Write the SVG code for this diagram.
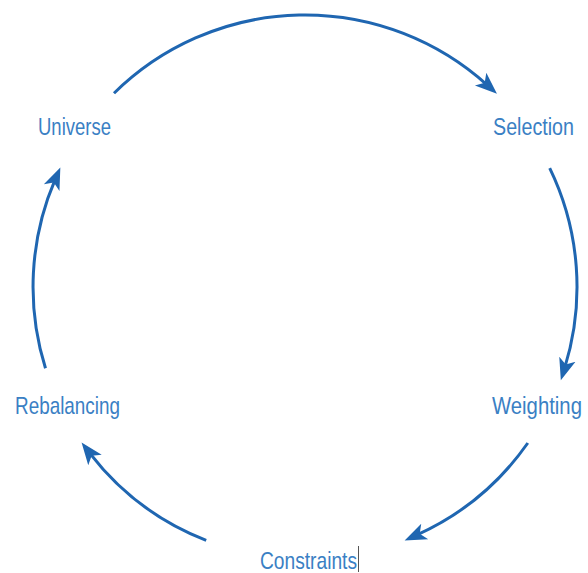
<svg xmlns="http://www.w3.org/2000/svg" width="588" height="573" viewBox="0 0 588 573">
  <style>
    .label { font-family: "Liberation Sans", Arial, sans-serif; font-size: 24px; fill: #3a80c4; }
    .arc { fill: none; stroke: #1f66b1; stroke-width: 3; stroke-linecap: butt; marker-end: url(#head); }
  </style>
  <defs>
    <marker id="head" markerUnits="userSpaceOnUse" markerWidth="26" markerHeight="22" viewBox="0 -11 26 22" refX="9" refY="0" orient="auto">
      <path d="M0,-8.5 L22,0 L0,8.5 L5.5,0 Z" fill="#1f66b1"/>
    </marker>
  </defs>

  <rect width="588" height="573" fill="#ffffff"/>

  <!-- cycle arcs, all on one circle centred at (305,287), r = 272 -->
  <g id="connectors">
    <path class="arc" d="M114,93.3 A272,272 0 0 1 487.3,85.1"/>
    <path class="arc" d="M549.7,168.2 A272,272 0 0 1 564.7,367.9"/>
    <path class="arc" d="M527.8,443 A272,272 0 0 1 416.5,535.1"/>
    <path class="arc" d="M206.2,540.4 A272,272 0 0 1 89.5,452.9"/>
    <path class="arc" d="M45.5,368.3 A272,272 0 0 1 55.2,179.4"/>
  </g>

  <!-- labels are horizontally condensed to 84% -->
  <g id="universe">
    <text class="label" transform="translate(38,135) scale(0.84,1)" textLength="86.9" lengthAdjust="spacingAndGlyphs">Universe</text>
  </g>
  <g id="selection">
    <text class="label" transform="translate(493,135) scale(0.84,1)" textLength="96.4" lengthAdjust="spacingAndGlyphs">Selection</text>
  </g>
  <g id="weighting">
    <text class="label" transform="translate(492,414) scale(0.84,1)" textLength="107.1" lengthAdjust="spacingAndGlyphs">Weighting</text>
  </g>
  <g id="constraints">
    <text class="label" transform="translate(260,569) scale(0.84,1)" textLength="115.5" lengthAdjust="spacingAndGlyphs">Constraints</text>
    <line x1="358.5" y1="546" x2="358.5" y2="572" stroke="#555555" stroke-width="1"/>
  </g>
  <g id="rebalancing">
    <text class="label" transform="translate(15,414) scale(0.84,1)" textLength="125" lengthAdjust="spacingAndGlyphs">Rebalancing</text>
  </g>
</svg>
